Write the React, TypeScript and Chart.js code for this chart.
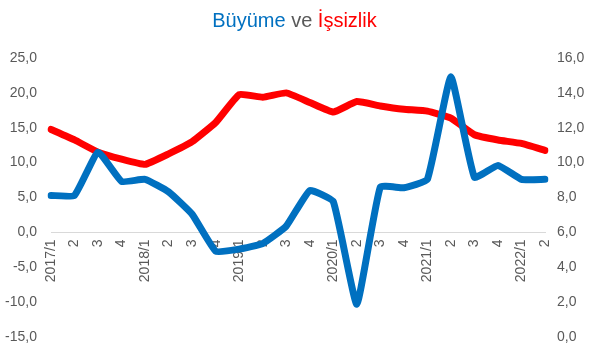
import React, { useEffect, useRef } from "react";
import { Chart, registerables } from "chart.js";

Chart.register(...registerables);

const categories = [
  "2017/1", "2", "3", "4",
  "2018/1", "2", "3", "4",
  "2019/1", "2", "3", "4",
  "2020/1", "2", "3", "4",
  "2021/1", "2", "3", "4",
  "2022/1", "2",
];

const growth = [
  5.3, 5.3, 11.5, 7.3,
  7.6, 5.8, 2.6, -2.7,
  -2.4, -1.6, 0.9, 6.0,
  4.4, -10.3, 6.5, 6.4,
  7.6, 22.3, 7.9, 9.6,
  7.6, 7.6,
];

const unemployment = [
  11.9, 11.3, 10.6, 10.2,
  9.9, 10.5, 11.2, 12.3,
  13.9, 13.75, 14.0, 13.45,
  12.9, 13.5, 13.25, 13.06,
  12.95, 12.55, 11.6, 11.3,
  11.1, 10.7,
];

const leftTicks = { min: -15, max: 25, step: 5 };
const rightTicks = { min: 0, max: 16, step: 2 };

const fmt = (v: number | string) => Number(v).toFixed(1).replace(".", ",");

const FONT = "'Liberation Sans', Arial, sans-serif";

export default function App() {
  const ref = useRef<HTMLCanvasElement | null>(null);

  useEffect(() => {
    document.body.style.margin = "0";
    const ctx = ref.current!.getContext("2d")!;
    const chart = new Chart(ctx, {
      type: "line",
      data: {
        labels: categories,
        datasets: [
          {
            label: "Büyüme",
            data: growth,
            borderColor: "#0070C0",
            backgroundColor: "#0070C0",
            borderWidth: 7,
            pointRadius: 0,
            tension: 0.12,
            borderCapStyle: "round",
            borderJoinStyle: "round",
            yAxisID: "y",
          },
          {
            label: "İşsizlik",
            data: unemployment,
            borderColor: "#FF0000",
            backgroundColor: "#FF0000",
            borderWidth: 7,
            pointRadius: 0,
            tension: 0.12,
            borderCapStyle: "round",
            borderJoinStyle: "round",
            yAxisID: "y1",
          },
        ],
      },
      options: {
        animation: false,
        responsive: false,
        maintainAspectRatio: false,
        layout: { padding: { top: 58, bottom: 18, left: 0, right: 0 } },
        plugins: { legend: { display: false }, title: { display: false }, tooltip: { enabled: false } },
        scales: {
          x: {
            position: { y: 0 },
            grid: { display: false, drawTicks: false },
            border: { display: true, color: "#D9D9D9", width: 1 },
            ticks: {
              color: "#595959",
              font: { family: FONT, size: 14 },
              maxRotation: 90,
              minRotation: 90,
              autoSkip: false,
              padding: 7,
            },
            afterFit: (s: any) => { s.height = 0; },
          },
          y: {
            position: "left",
            min: leftTicks.min,
            max: leftTicks.max,
            grid: { display: false, drawTicks: false },
            border: { display: false },
            ticks: {
              stepSize: leftTicks.step,
              color: "#595959",
              font: { family: FONT, size: 14 },
              padding: 14,
              callback: (v: any) => fmt(v),
            },
            afterFit: (s: any) => { s.width = 51; s.paddingTop = 0; s.paddingBottom = 0; },
          },
          y1: {
            position: "right",
            min: rightTicks.min,
            max: rightTicks.max,
            grid: { display: false, drawTicks: false },
            border: { display: false },
            ticks: {
              stepSize: rightTicks.step,
              color: "#595959",
              font: { family: FONT, size: 14 },
              padding: 12,
              callback: (v: any) => fmt(v),
            },
            afterFit: (s: any) => { s.width = 44; s.paddingTop = 0; s.paddingBottom = 0; },
          },
        },
      },
    });
    return () => chart.destroy();
  }, []);

  return (
    <div style={{ position: "relative", width: 589, height: 355, background: "#fff" }}>
      <div
        style={{
          position: "absolute",
          top: 6,
          left: 0,
          width: 589,
          textAlign: "center",
          fontFamily: FONT,
          fontSize: 20,
          lineHeight: "28px",
        }}
      >
        <span style={{ color: "#0070C0" }}>Büyüme</span>
        <span style={{ color: "#595959" }}> ve </span>
        <span style={{ color: "#FF0000" }}>İşsizlik</span>
      </div>
      <canvas ref={ref} width={589} height={355} style={{ display: "block" }} />
    </div>
  );
}
